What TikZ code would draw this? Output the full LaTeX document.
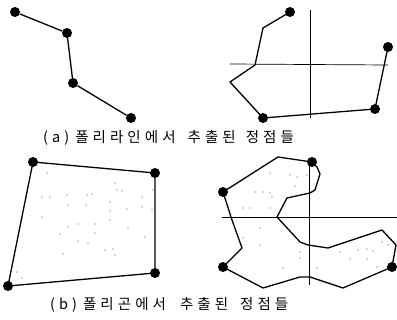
\documentclass[tikz,border=0pt]{standalone}
\usepackage{fontspec}
\newfontfamily\kr[LetterSpace=28]{Noto Sans CJK KR}
\begin{document}
\begin{tikzpicture}[x=1pt,y=-1pt,
  vdot/.style={circle,fill=black,inner sep=0pt,minimum size=10pt},
  pt/.style={coordinate},
  edge/.style={line width=1.3pt,line join=round},
  axis/.style={line width=0.7pt},
  caption/.style={font=\kr\fontsize{14.5}{16}\selectfont,inner sep=0pt,anchor=west},
  stip/.style={fill=black!70,radius=0.55pt}]
\useasboundingbox (0,0) rectangle (397,320);
% (a) left polyline
\node[vdot] (a1) at (15,12) {};
\node[vdot] (a2) at (67,33) {};
\node[vdot] (a3) at (73,83) {};
\node[vdot] (a4) at (131,118) {};
\draw[edge] (a1) -- (a2) -- (a3) -- (a4);
% (a) right polyline with axes
\coordinate (hx1) at (230,64);
\coordinate (hx2) at (388,65);
\coordinate (vx1) at (310,10);
\coordinate (vx2) at (310,118);
\draw[axis] (hx1) -- (hx2);
\draw[axis] (vx1) -- (vx2);
\node[vdot] (b1) at (290,12) {};
\node[pt] (b2) at (263,28) {};
\node[pt] (b3) at (255,65) {};
\node[pt] (b4) at (230,82) {};
\node[vdot] (b5) at (263,118) {};
\node[vdot] (b6) at (375,109) {};
\node[vdot] (b7) at (388,47) {};
\draw[edge] (b1.center) -- (b2) -- (b3) -- (b4) -- (b5.center) -- (b6.center) -- (b7.center);
\node[caption] (capa) at (43,138) {(a)\hspace{6pt}폴리라인에서\hspace{12pt}추출된\hspace{10pt}정점들};
% (b) left polygon
\node[vdot] (c1) at (33,162) {};
\node[vdot] (c2) at (155,173) {};
\node[vdot] (c3) at (155,273) {};
\node[vdot] (c4) at (8,286) {};
\draw[edge] (c1.center) -- (c2.center) -- (c3.center) -- (c4.center) -- cycle;
\foreach \p in {(47,173),(115,183),(117,190),(122,191),(153,190),(42,197),(50,197),(67,195),(87,195),(92,194),(68,205),(86,205),(110,202),(142,197),(142,207),(152,210),(110,211),(127,209),(42,217),(68,227),(78,224),(95,224),(110,220),(128,228),(60,234),(95,233),(78,241),(88,243),(145,237),(63,254),(105,250),(113,249),(115,255),(17,272),(22,278)}
  \fill[stip] \p circle;
% (b) right polygon with axes
\coordinate (hy1) at (222,217);
\coordinate (hy2) at (397,217);
\coordinate (vy1) at (309,160);
\coordinate (vy2) at (309,285);
\draw[axis] (hy1) -- (hy2);
\draw[axis] (vy1) -- (vy2);
\node[vdot] (d1) at (312,162) {};
\node[pt] (d2) at (278,157) {};
\node[vdot] (d3) at (223,192) {};
\node[pt] (d4) at (232,220) {};
\node[pt] (d5) at (242,248) {};
\node[vdot] (d6) at (223,267) {};
\node[pt] (d7) at (263,288) {};
\node[pt] (d8) at (300,277) {};
\node[pt] (d9) at (310,277) {};
\node[pt] (d10) at (343,288) {};
\node[vdot] (d11) at (392,267) {};
\node[pt] (d12) at (396,245) {};
\node[pt] (d13) at (382,230) {};
\node[pt] (d14) at (328,248) {};
\node[pt] (d15) at (308,245) {};
\node[pt] (d16) at (300,242) {};
\node[pt] (d17) at (277,217) {};
\node[pt] (d18) at (287,198) {};
\node[pt] (d19) at (310,193) {};
\node[pt] (d20) at (315,190) {};
\node[pt] (d21) at (320,174) {};
\node[pt] (d22) at (317,167) {};
\draw[edge] (d1.center) -- (d2) -- (d3.center) -- (d4) -- (d5) -- (d6.center) -- (d7) -- (d8) -- (d9) -- (d10) -- (d11.center) -- (d12) -- (d13) -- (d14) -- (d15) -- (d16) -- (d17) -- (d18) -- (d19) -- (d20) -- (d21) -- (d22) -- cycle;
\foreach \p in {(270,173),(290,175),(297,177),(307,175),(255,192),(263,192),(270,193),(272,197),(295,186),(243,208),(250,208),(270,208),(260,228),(243,238),(260,245),(283,268),(300,252),(300,258),(317,268),(340,252),(358,250),(367,249),(373,251),(350,259),(367,259),(377,267),(382,242),(388,245),(238,253)}
  \fill[stip] \p circle;
\node[caption] (capb) at (50,305) {(b)\hspace{6pt}폴리곤에서\hspace{14pt}추출된\hspace{12pt}정점들};
\end{tikzpicture}
\end{document}
